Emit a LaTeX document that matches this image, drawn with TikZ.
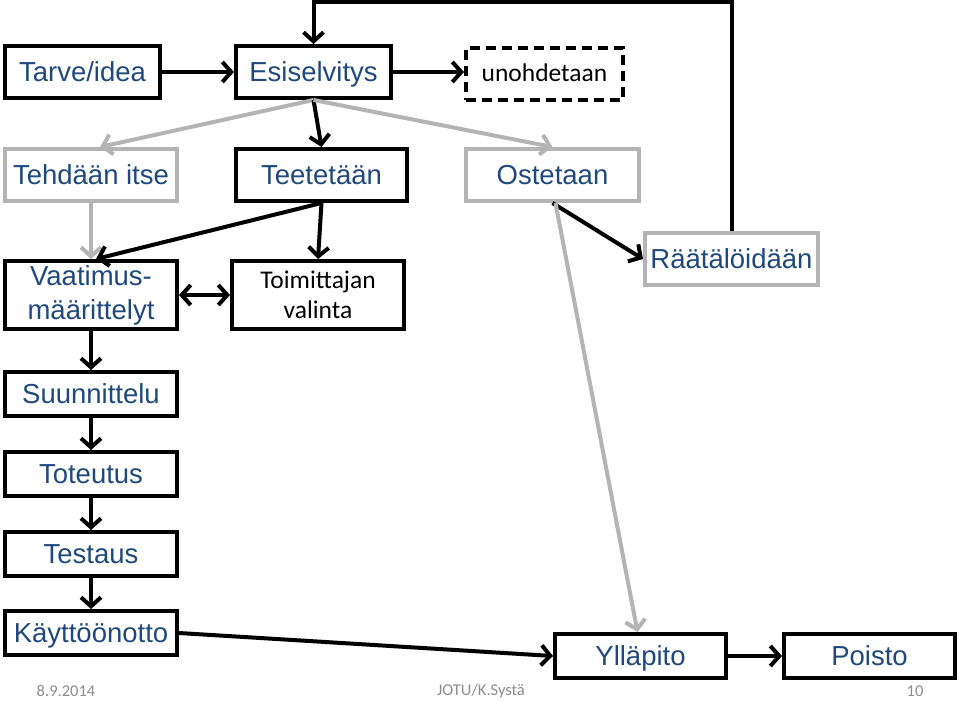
\documentclass[tikz,border=0pt]{standalone}
\usepackage{fontspec}
\setmainfont{Liberation Sans}
\newfontfamily\calibfont{Carlito}
\usetikzlibrary{arrows.meta, positioning, calc}
\usepackage{xcolor}
\definecolor{phaseblue}{HTML}{1F497D}
\definecolor{optgray}{HTML}{B4B4B4}
\definecolor{footgray}{HTML}{8C8C8C}

\tikzset{
  phase/.style={rectangle, draw, line width=4pt, text=phaseblue, font=\fontsize{27.5}{34}\selectfont,
    minimum width=172pt, minimum height=52pt, inner sep=0pt, align=center},
  oneline/.style={text height=19.7pt, text depth=0pt},
  option/.style={phase, oneline, draw=optgray},
  choice/.style={rectangle, draw, line width=4pt, font=\calibfont\fontsize{25.5}{29.5}\selectfont,
    minimum width=172pt, minimum height=52pt, inner sep=0pt, align=center},
  flow/.style={line width=4pt, -{Straight Barb[length=9pt,width=20pt]}},
  biflow/.style={line width=4pt, {Straight Barb[length=9pt,width=20pt]}-{Straight Barb[length=9pt,width=20pt]}},
  optflow/.style={flow, draw=optgray},
  footer/.style={text=footgray, font=\calibfont\fontsize{16.5}{20}\selectfont, inner sep=0pt},
}

\begin{document}
\begin{tikzpicture}[x=1pt, y=-1pt]
  \useasboundingbox (0,0) rectangle (960,701);

  % first rows
  \node[phase, oneline, minimum width=155pt] (tarve) at (82.5,72) {Tarve/idea};
  \node[phase, oneline, minimum width=155pt] (esisel) at (313.5,72) {Esiselvitys};
  \node[choice, text height=15pt, text depth=0pt, dashed, dash pattern=on 10pt off 6pt, minimum width=157pt] (unohd) at (544.5,74) {unohdetaan};
  \node[option] (itse) at (91,175) {Tehdään itse};
  \node[phase, oneline, minimum width=171pt] (teete) at (321.5,175) {Teetetään};
  \node[option, minimum width=173pt] (ostet) at (552.5,175) {Ostetaan};
  \node[option, minimum width=173pt] (raatal) at (731.5,259) {Räätälöidään};
  \node[phase, minimum height=68pt] (vaatim) at (91,295) {Vaatimus-\\määrittelyt};
  \node[choice, minimum height=68pt] (toimit) at (318,295) {Toimittajan\\valinta};

  % life cycle
  \node[phase, oneline, minimum height=44pt] (suunn) at (91,394) {Suunnittelu};
  \node[phase, oneline, minimum height=44pt] (toteu) at (91,474) {Toteutus};
  \node[phase, oneline, minimum height=44pt] (testa) at (91,554) {Testaus};
  \node[phase, oneline, minimum height=44pt] (kaytto) at (91,633) {Käyttöönotto};
  \node[phase, oneline, minimum height=44pt, minimum width=171pt] (yllap) at (640.5,656) {Ylläpito};
  \node[phase, oneline, minimum height=44pt, minimum width=171pt] (poisto) at (869.5,656) {Poisto};

  \node[footer] (pvm) at (66,691) {8.9.2014};
  \node[footer] (tekija) at (481,691) {JOTU/K.Systä};
  \node[footer] (sivu) at (915,691) {10};

  \coordinate (ylareuna) at (0,2.5);

  \draw[flow] (tarve) -- (esisel);
  \draw[flow] (esisel.east) -- (esisel.east -| unohd.west);
  \draw[flow] (raatal.north) |- (ylareuna -| esisel.north) -- (esisel.north);
  \draw[optflow] (esisel.south) -- ($(itse.north)+(9,0)$);
  \draw[flow] (esisel.south) -- (teete.north);
  \draw[optflow] (esisel.south) -- (ostet.north);
  \draw[optflow] (itse) -- (vaatim);
  \draw[flow] (teete.south) -- ($(vaatim.north)+(5,0)$);
  \draw[flow] (teete.south) -- (toimit.north);
  \draw[biflow] (vaatim) -- (toimit);
  \draw[flow] (ostet.south) -- (raatal.west);
  \draw[optflow] ($(ostet.south)+(3,0)$) -- ($(yllap.north)+(-3,0)$);
  \draw[flow] (vaatim) -- (suunn);
  \draw[flow] (suunn) -- (toteu);
  \draw[flow] (toteu) -- (testa);
  \draw[flow] (testa) -- (kaytto);
  \draw[flow] (kaytto.east) -- (yllap.west);
  \draw[flow] (yllap) -- (poisto);
\end{tikzpicture}
\end{document}
